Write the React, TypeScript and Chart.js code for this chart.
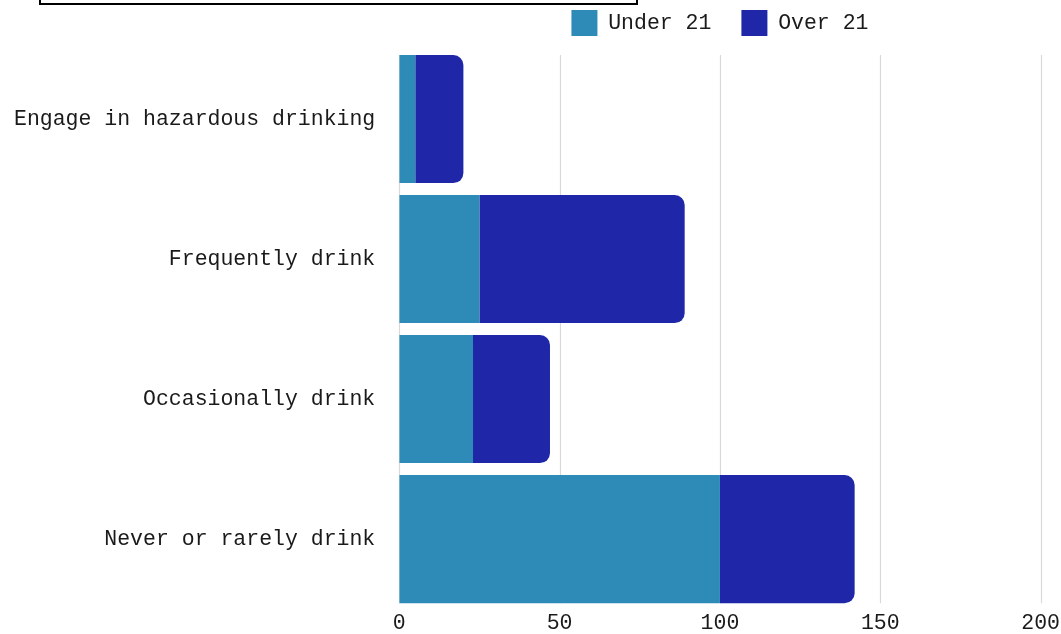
import React, { useEffect, useRef } from "react";
import { Chart, registerables } from "chart.js";

Chart.register(...registerables);

const categories = [
  "Engage in hazardous drinking",
  "Frequently drink",
  "Occasionally drink",
  "Never or rarely drink",
];
const under21 = [5, 25, 23, 100];
const over21 = [15, 64, 24, 42];
const seriesNames = ["Under 21", "Over 21"];
const xTicksMax = 200;
const xTickStep = 50;

const FONT = "'Liberation Mono', 'DejaVu Sans Mono', monospace";
const GRID = "#d9d9d9";

const gridPlugin = {
  id: "shortGrid",
  beforeDatasetsDraw(chart: any) {
    const meta = chart.getDatasetMeta(0);
    if (!meta || !meta.data.length) return;
    const first = meta.data[0];
    const last = meta.data[meta.data.length - 1];
    const top = first.y - first.height / 2;
    const bottom = last.y + last.height / 2;
    const xs = chart.scales.x;
    const ctx = chart.ctx;
    ctx.save();
    ctx.strokeStyle = GRID;
    ctx.lineWidth = 1.2;
    xs.ticks.forEach((t: any) => {
      const px = Math.round(xs.getPixelForValue(t.value)) + 0.5;
      ctx.beginPath();
      ctx.moveTo(px, top);
      ctx.lineTo(px, bottom);
      ctx.stroke();
    });
    ctx.restore();
  },
};

export default function App() {
  const ref = useRef<HTMLCanvasElement | null>(null);
  useEffect(() => {
    if (!ref.current) return;
    const chart = new Chart(ref.current, {
      type: "bar",
      data: {
        labels: categories,
        datasets: [
          {
            label: seriesNames[0],
            data: under21,
            backgroundColor: "#2E8BB8",
            borderRadius: 10,
            borderSkipped: "start",
            categoryPercentage: 0.915,
            barPercentage: 1,
          },
          {
            label: seriesNames[1],
            data: over21,
            backgroundColor: "#1F27A8",
            borderRadius: 10,
            borderSkipped: "start",
            categoryPercentage: 0.915,
            barPercentage: 1,
          },
        ],
      },
      options: {
        indexAxis: "y",
        animation: false,
        responsive: true,
        maintainAspectRatio: false,
        layout: { padding: 0 },
        plugins: {
          legend: {
            position: "top",
            fullSize: false,
            labels: {
              boxWidth: 26,
              boxHeight: 26,
              padding: 30,
              color: "#1a1a1a",
              font: { family: FONT, size: 21.5 },
            },
          },
          subtitle: {
            display: true,
            text: "",
            weight: 500,
            padding: { top: 0, bottom: 0 },
            font: { size: 3, lineHeight: 1 },
          } as any,
          tooltip: { enabled: false },
        },
        scales: {
          x: {
            stacked: true,
            min: 0,
            max: xTicksMax,
            ticks: {
              stepSize: xTickStep,
              padding: 1,
              color: "#1a1a1a",
              font: { family: FONT, size: 21.5 },
              maxRotation: 0,
            },
            grid: { display: false, drawTicks: false },
            border: { display: false },
          },
          y: {
            stacked: true,
            ticks: {
              padding: 24,
              color: "#1a1a1a",
              font: { family: FONT, size: 21.5 },
            },
            grid: { display: false, drawTicks: false },
            border: { display: false },
          },
        },
      },
      plugins: [gridPlugin],
    });
    return () => chart.destroy();
  }, []);

  return (
    <div>
      <div
        style={{
          position: "fixed",
          left: -10,
          top: -20,
          width: 1071,
          height: 666,
        }}
      >
        <canvas ref={ref} />
      </div>
      <div
        style={{
          position: "fixed",
          left: 39,
          top: -60,
          width: 595,
          height: 61,
          border: "2px solid #000",
          background: "#fff",
        }}
      />
    </div>
  );
}
